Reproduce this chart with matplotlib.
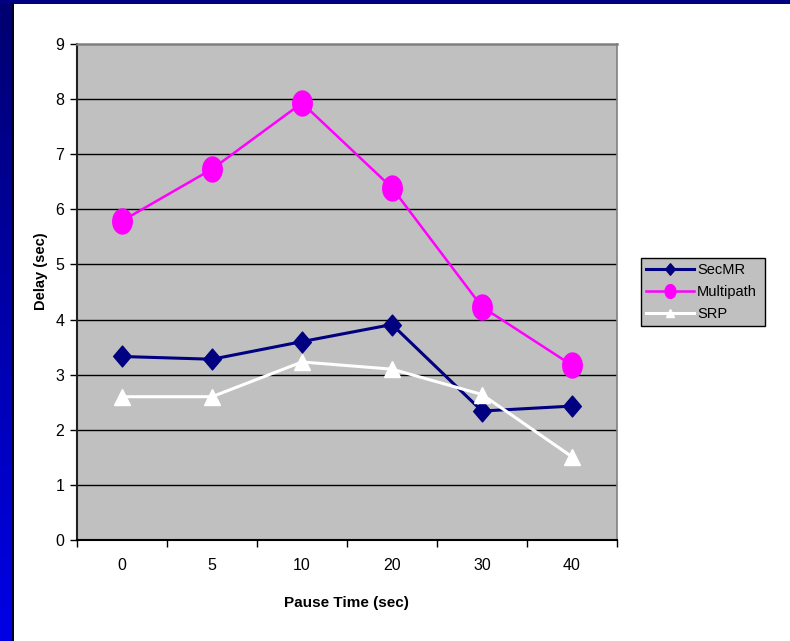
import numpy as np
import matplotlib
matplotlib.use("Agg")
import matplotlib.pyplot as plt
from matplotlib.path import Path
from matplotlib.patches import Rectangle

# Pause times (categories) and mean delay per protocol
pause_times = ["0", "5", "10", "20", "30", "40"]
secmr = [3.33, 3.28, 3.60, 3.91, 2.34, 2.43]
multipath = [5.79, 6.73, 7.93, 6.39, 4.23, 3.17]
srp = [2.60, 2.60, 3.23, 3.10, 2.64, 1.51]

W, H = 790, 641
plt.rcParams['font.family'] = ['Liberation Sans', 'DejaVu Sans']

fig = plt.figure(figsize=(W / 100, H / 100), dpi=100)
fig.patch.set_facecolor("white")

def px(x0, y0, x1, y1):
    # pixel box -> figure fraction rect
    return [x0 / W, 1 - y1 / H, (x1 - x0) / W, (y1 - y0) / H]

# slide frame: navy bar on top, blue gradient strip down the left side
bg = fig.add_axes([0, 0, 1, 1], zorder=-10)
bg.set_xlim(0, W)
bg.set_ylim(H, 0)
bg.axis("off")
grad = np.linspace(0, 1, 256).reshape(-1, 1)
cmap = matplotlib.colors.LinearSegmentedColormap.from_list("frame", ["#000070", "#0000E6"])
bg.imshow(grad, cmap=cmap, extent=[0, 12, H, 0], aspect="auto")
bg.add_patch(Rectangle((0, 0), W, 3.5, color="#000080", lw=0))
bg.add_patch(Rectangle((12, 3), 1.5, H, color="#000020", lw=0))

# custom markers: tall ellipse and tall diamond
t = np.linspace(0, 2 * np.pi, 40)
ellipse = Path(np.column_stack([0.78 * np.cos(t), np.sin(t)]))
diamond = Path([(0, 1), (0.85, 0), (0, -1), (-0.85, 0), (0, 1)], closed=True)

ax = fig.add_axes(px(77, 44, 617, 540))
ax.set_facecolor("#C0C0C0")
x = np.arange(len(pause_times))

ax.plot(x, secmr, color="#000080", lw=2.2, marker=diamond, ms=15, label="SecMR", zorder=3)
ax.plot(x, multipath, color="#FF00FF", lw=1.8, marker=ellipse, ms=18, label="Multipath", zorder=3)
ax.plot(x, srp, color="white", lw=2.2, marker="^", ms=11, label="SRP", zorder=3)

ax.set_xlim(-0.5, len(pause_times) - 0.5)
ax.set_ylim(0, 9)
ax.set_yticks(range(10))
ax.set_xticks(np.arange(-0.5, len(pause_times)), minor=False)
ax.set_xticklabels([])
ax.set_xticks(x, minor=True)
ax.set_xticklabels(pause_times, minor=True)
ax.tick_params(axis="x", which="minor", length=0, pad=13, labelsize=11.5)
ax.tick_params(axis="x", which="major", length=5, width=1, color="black", direction="out")
ax.tick_params(axis="y", length=5, width=1, color="black", direction="out", pad=4, labelsize=11.5)

for v in range(1, 9):
    ax.axhline(v, color="black", lw=1, zorder=1)
ax.spines["top"].set_color("#808080")
ax.spines["right"].set_color("#808080")
ax.spines["top"].set_linewidth(1.8)
ax.spines["right"].set_linewidth(1.2)
ax.spines["left"].set_color("#202020")
ax.spines["left"].set_linewidth(1.5)
ax.spines["bottom"].set_color("black")
ax.spines["bottom"].set_linewidth(1.5)

fig.text(346 / W, 1 - 603 / H, "Pause Time (sec)", ha="center", va="center",
         fontsize=11, fontweight="bold")
fig.text(41 / W, 1 - 271 / H, "Delay (sec)", ha="center", va="center",
         rotation=90, fontsize=10.5, fontweight="bold")

leg = ax.legend(loc="upper left", bbox_to_anchor=(641 / W, 1 - 329 / H, 124 / W, 71 / H),
                bbox_transform=fig.transFigure, mode="expand", frameon=True, fancybox=False,
                fontsize=10.5, handlelength=3.3, handletextpad=0.2, borderpad=0.35,
                labelspacing=0.55, markerscale=0.55, borderaxespad=0)
leg.get_frame().set_facecolor("#C0C0C0")
leg.get_frame().set_edgecolor("black")
leg.get_frame().set_linewidth(1.0)
leg.get_frame().set_alpha(1)

fig.savefig("out.png", dpi=100)
